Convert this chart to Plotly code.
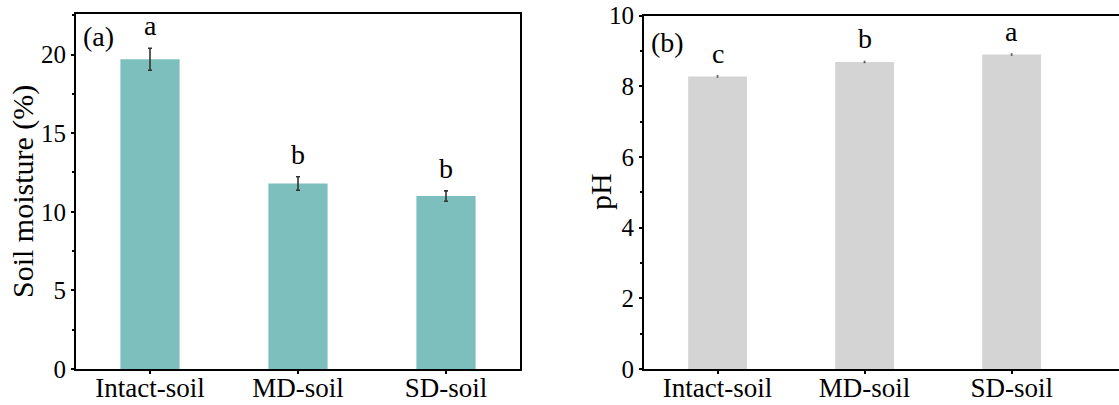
import plotly.graph_objects as go

categories = ["Intact-soil", "MD-soil", "SD-soil"]
moisture = [19.7, 11.8, 11.0]
moisture_err = [0.7, 0.43, 0.33]
moisture_letters = ["a", "b", "b"]
ph = [8.28, 8.69, 8.90]
ph_err = [0.02, 0.02, 0.02]
ph_letters = ["c", "b", "a"]

W, H = 1119, 405
FONT = "Liberation Serif"
TEAL = "#7cbfbc"
GREY = "#d4d4d4"

fig = go.Figure()

fig.add_trace(go.Bar(
    x=categories, y=moisture, width=0.4,
    marker=dict(color=TEAL, line=dict(width=0)),
    error_y=dict(type="data", array=moisture_err, color="#333333", thickness=1.6, width=2),
    xaxis="x", yaxis="y", showlegend=False,
))
fig.add_trace(go.Bar(
    x=categories, y=ph, width=0.4,
    marker=dict(color=GREY, line=dict(width=0)),
    error_y=dict(type="data", array=ph_err, color="#555555", thickness=1, width=1),
    xaxis="x2", yaxis="y2", showlegend=False,
))

LET = dict(family=FONT, size=28, color="black")
annotations = []
for c, v, e, t in zip(categories, moisture, moisture_err, moisture_letters):
    annotations.append(dict(x=c, y=v + e, xref="x", yref="y", text=t, showarrow=False,
                            yanchor="bottom", yshift=5, font=LET))
for c, v, e, t in zip(categories, ph, ph_err, ph_letters):
    annotations.append(dict(x=c, y=v + e, xref="x2", yref="y2", text=t, showarrow=False,
                            yanchor="bottom", yshift=5, font=LET))
annotations.append(dict(x=81 / W, y=1 - 37 / H, xref="paper", yref="paper", text="(a)", showarrow=False,
                        xanchor="left", yanchor="middle", font=LET))
annotations.append(dict(x=649 / W, y=1 - 42 / H, xref="paper", yref="paper", text="(b)", showarrow=False,
                        xanchor="left", yanchor="middle", font=LET))
annotations.append(dict(x=23 / W, y=1 - 192 / H, xref="paper", yref="paper", text="Soil moisture (%)",
                        textangle=-90, showarrow=False, xanchor="center", yanchor="middle",
                        font=dict(family=FONT, size=30, color="black")))
annotations.append(dict(x=600 / W, y=1 - 192 / H, xref="paper", yref="paper", text="pH",
                        textangle=-90, showarrow=False, xanchor="center", yanchor="middle",
                        font=dict(family=FONT, size=30, color="black")))

axis_common = dict(showline=True, linecolor="black", linewidth=2, showgrid=False, zeroline=False,
                   ticks="outside", ticklen=3, tickwidth=1.5, tickcolor="black", automargin=False)
XF = dict(family=FONT, size=27, color="black")
YF = dict(family=FONT, size=25, color="black")

fig.update_layout(
    width=W, height=H,
    margin=dict(l=0, r=0, t=0, b=0, pad=0),
    paper_bgcolor="white", plot_bgcolor="white",
    annotations=annotations,
    xaxis=dict(domain=[76 / W, 520 / W], range=[-0.5, 2.5], mirror=True, anchor="y", tickfont=XF,
               ticklabelstandoff=-9, **axis_common),
    yaxis=dict(domain=[1 - 369 / H, 1 - 14 / H], range=[0, 22.58], mirror=True, anchor="x",
               tickvals=[0, 5, 10, 15, 20], tickfont=YF,
               minor=dict(tickvals=[2.5, 7.5, 12.5, 17.5, 22.5], ticks="outside", ticklen=2, tickcolor="black"),
               **axis_common),
    xaxis2=dict(domain=[644 / W, 1.0], range=[-0.5, 2.73], mirror=True, anchor="y2", tickfont=XF,
                ticklabelstandoff=-9, **axis_common),
    yaxis2=dict(domain=[1 - 369 / H, 1 - 15.7 / H], range=[0, 10], mirror=False, anchor="x2",
                tickvals=[0, 2, 4, 6, 8, 10], tickfont=YF,
                minor=dict(tickvals=[1, 3, 5, 7, 9], ticks="outside", ticklen=2, tickcolor="black"),
                **axis_common),
)

fig.write_html("out.html")
